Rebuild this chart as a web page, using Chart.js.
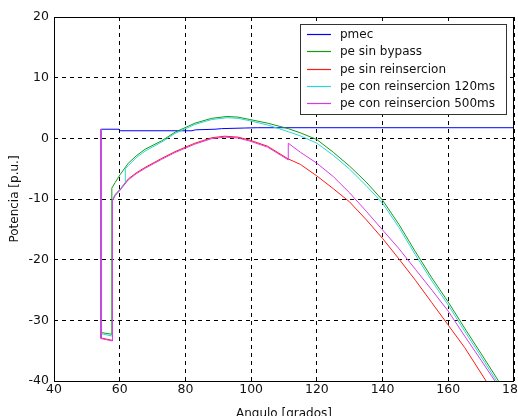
<!DOCTYPE html>
<html>
<head>
<meta charset="utf-8">
<title>Potencia vs angulo</title>
<script src="https://cdn.jsdelivr.net/npm/chart.js@4/dist/chart.umd.min.js"></script>
<style>
  html, body { margin: 0; padding: 0; background: #fff; overflow: hidden; }
  canvas { display: block; }
</style>
</head>
<body>
<canvas id="chart" width="530" height="424"></canvas>
<script>
// Axis ranges and ticks
const xTicks = [40, 60, 80, 100, 120, 140, 160, 180];
const yTicks = [-40, -30, -20, -10, 0, 10, 20];

// pmec
const pmecAngle = [54.3, 59.8, 60.2, 82.0, 83.0, 89.0, 91.0, 98.0, 102.0, 180.0];
const pmecPower = [1.5, 1.5, 1.25, 1.25, 1.4, 1.5, 1.6, 1.7, 1.75, 1.75];

// pe sin bypass
const sinBypassAngle = [54.3, 54.3, 57.6, 57.6, 58.6, 60.1, 62.6, 65, 67.7, 72.8, 76.8, 82.9, 88, 92.6, 96, 99.6, 105, 111.3, 115, 120, 125, 130, 135, 140, 145, 150, 155, 160, 165, 170, 175.3];
const sinBypassPower = [1.5, -32.0, -32.3, -8.2, -7.3, -6.0, -4.1, -2.9, -1.8, -0.4, 1.0, 2.5, 3.3, 3.6, 3.5, 3.1, 2.5, 1.6, 0.9, -0.2, -2.3, -4.6, -7.2, -10.2, -14.2, -18.7, -23.0, -27.0, -31.3, -35.5, -40];

// pe sin reinsercion
const sinReinsAngle = [54.3, 54.3, 56.0, 57.8, 57.8, 58.6, 60.1, 62.6, 65, 67.7, 72.8, 76.8, 82.9, 88, 92, 96, 99.6, 105, 111.3, 115, 120, 125, 130, 135, 140, 145, 150, 155, 160, 165, 171.5];
const sinReinsPower = [1.5, -32.9, -33.1, -33.3, -10.2, -9.3, -8.4, -6.7, -5.7, -4.8, -3.3, -2.2, -0.8, 0.1, 0.35, 0.2, -0.3, -1.3, -3.4, -4.3, -6.2, -8.3, -10.5, -13.4, -16.5, -19.9, -23.4, -27.1, -30.8, -34.5, -40];

// pe con reinsercion 120ms
const reins120Angle = [54.3, 54.3, 57.8, 57.8, 58.6, 60.1, 61.7, 61.7, 62.6, 65, 67.7, 72.8, 76.8, 82.9, 88, 92.6, 96, 99.6, 105, 111.3, 115, 120, 125, 130, 135, 140, 145, 150, 155, 160, 165, 170, 174.7];
const reins120Power = [1.5, -32.2, -32.6, -10.2, -9.3, -8.4, -7.4, -5.0, -4.5, -3.2, -2.1, -0.6, 0.8, 2.3, 3.1, 3.4, 3.3, 2.9, 2.2, 1.1, 0.4, -0.8, -2.8, -5.1, -7.8, -10.7, -14.7, -19.2, -23.5, -27.5, -31.8, -36.0, -40];

// pe con reinsercion 500ms
const reins500Angle = [54.3, 54.3, 56.0, 57.8, 57.8, 58.6, 60.1, 62.6, 65, 67.7, 72.8, 76.8, 82.9, 88, 92, 96, 99.6, 105, 111.3, 111.3, 115, 120, 125, 130, 135, 140, 145, 150, 155, 160, 165, 170, 174.2];
const reins500Power = [1.5, -33.0, -33.2, -33.4, -10.3, -9.45, -8.55, -6.85, -5.85, -4.95, -3.45, -2.35, -0.95, -0.05, 0.2, 0.05, -0.45, -1.45, -3.55, -0.8, -2.3, -4.1, -6.3, -9.0, -12.0, -15.1, -18.2, -21.6, -25.0, -28.5, -32.6, -36.6, -40];

function toPoints(xs, ys) {
  return xs.map((x, i) => ({ x: x, y: ys[i] }));
}

function series(label, xs, ys, color, order) {
  return {
    label: label,
    data: toPoints(xs, ys),
    borderColor: color,
    backgroundColor: color,
    borderWidth: 1,
    pointRadius: 0,
    tension: 0,
    fill: false,
    order: order
  };
}

const FONT = '"DejaVu Sans", Verdana, sans-serif';

// frame around the plot area + legend box in the upper right corner
const boxLegend = {
  id: 'boxLegend',
  afterDraw(chart) {
    const ctx = chart.ctx;
    const a = chart.chartArea;
    ctx.save();
    ctx.strokeStyle = '#000';
    ctx.lineWidth = 1;
    ctx.strokeRect(Math.round(a.left) + 0.5, Math.round(a.top) + 0.5,
      Math.round(a.right - a.left) - 1, Math.round(a.bottom - a.top));

    ctx.font = '12px ' + FONT;
    const sets = chart.data.datasets;
    let maxW = 0;
    sets.forEach(d => { maxW = Math.max(maxW, ctx.measureText(d.label).width); });
    const rowH = 17.1;
    const w = Math.round(40 + maxW + 11);
    const h = Math.round(sets.length * rowH + 4);
    const x0 = Math.round(a.right - 8 - w);
    const y0 = Math.round(a.top + 7);
    ctx.fillStyle = '#fff';
    ctx.fillRect(x0, y0, w, h);
    ctx.strokeStyle = '#333';
    ctx.strokeRect(x0 + 0.5, y0 + 0.5, w, h);
    ctx.textBaseline = 'middle';
    sets.forEach((d, i) => {
      const y = Math.round(y0 + 10.3 + i * rowH) + 0.5;
      ctx.strokeStyle = d.borderColor;
      ctx.lineWidth = 1.2;
      ctx.beginPath();
      ctx.moveTo(x0 + 7, y);
      ctx.lineTo(x0 + 31, y);
      ctx.stroke();
      ctx.fillStyle = '#111';
      ctx.fillText(d.label, x0 + 40, y);
    });
    ctx.restore();
  }
};

new Chart(document.getElementById('chart'), {
  type: 'line',
  data: {
    datasets: [
      series('pmec', pmecAngle, pmecPower, '#0000ff', 4),
      series('pe sin bypass', sinBypassAngle, sinBypassPower, '#169a16', 3),
      series('pe sin reinsercion', sinReinsAngle, sinReinsPower, '#ff1a1a', 2),
      series('pe con reinsercion 120ms', reins120Angle, reins120Power, '#2ad6d6', 1),
      series('pe con reinsercion 500ms', reins500Angle, reins500Power, '#d63ae6', 0)
    ]
  },
  options: {
    responsive: false,
    animation: false,
    events: [],
    layout: { padding: { top: 17, right: 16, bottom: 1, left: 0 } },
    plugins: {
      legend: { display: false },
      tooltip: { enabled: false }
    },
    scales: {
      x: {
        type: 'linear',
        min: 40,
        max: 180,
        afterBuildTicks(scale) { scale.ticks = xTicks.map(v => ({ value: v })); },
        afterFit(scale) {
          scale.height = 424 - 1 - 381;
          scale.paddingLeft = 0;
          scale.paddingRight = 0;
        },
        grid: {
          color: '#000',
          lineWidth: 1,
          drawTicks: false
        },
        border: { display: false, dash: [4, 4] },
        ticks: {
          padding: 1,
          color: '#111',
          maxRotation: 0,
          font: { family: FONT, size: 12.5 }
        },
        title: {
          display: true,
          text: 'Angulo [grados]',
          color: '#111',
          font: { family: FONT, size: 12, lineHeight: 1.2 },
          padding: { top: 0, bottom: 2 }
        }
      },
      y: {
        type: 'linear',
        min: -40,
        max: 20,
        afterBuildTicks(scale) { scale.ticks = yTicks.map(v => ({ value: v })); },
        afterFit(scale) {
          scale.width = 54;
          scale.paddingTop = 0;
          scale.paddingBottom = 0;
        },
        grid: {
          color: '#000',
          lineWidth: 1,
          drawTicks: false
        },
        border: { display: false, dash: [4, 4] },
        ticks: {
          padding: 5,
          color: '#111',
          font: { family: FONT, size: 12.5 }
        },
        title: {
          display: true,
          text: 'Potencia [p.u.]',
          color: '#111',
          font: { family: FONT, size: 12, lineHeight: 1.2 },
          padding: { top: 8, bottom: 0 }
        }
      }
    }
  },
  plugins: [boxLegend]
});
</script>
</body>
</html>
